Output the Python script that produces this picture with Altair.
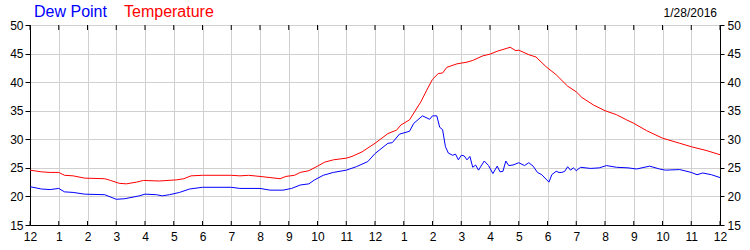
import altair as alt
import pandas as pd

# ---- data ----
temp_hours = [0.0, 0.4, 0.7, 1.0, 1.2, 1.5, 1.9, 2.6, 2.8, 3.1, 3.35, 3.7, 3.95, 4.5, 4.8,
              5.1, 5.35, 5.6, 6.0, 7.0, 7.3, 7.6, 8.0, 8.35, 8.7, 8.9, 9.2, 9.4, 9.7, 10.0,
              10.25, 10.55, 11.0, 11.2, 11.55, 12.0, 12.45, 12.75, 12.9, 13.2, 13.35, 13.6,
              13.8, 14.0, 14.2, 14.35, 14.5, 14.85, 15.2, 15.4, 15.75, 16.0, 16.25, 16.7,
              16.9, 17.0, 17.35, 17.6, 17.95, 18.3, 18.7, 19.0, 19.2, 19.6, 20.0, 20.4,
              20.75, 21.0, 21.45, 22.0, 22.6, 23.0, 23.55, 24.0]
temp_values = [24.6, 24.3, 24.2, 24.2, 23.7, 23.6, 23.2, 23.1, 22.8, 22.3, 22.2, 22.5, 22.8,
               22.7, 22.8, 22.9, 23.1, 23.6, 23.7, 23.7, 23.6, 23.7, 23.5, 23.3, 23.1, 23.5,
               23.7, 24.2, 24.5, 25.3, 26.0, 26.4, 26.7, 27.0, 27.8, 29.3, 31.0, 31.6, 32.5,
               33.4, 34.6, 36.6, 38.6, 40.5, 41.5, 41.6, 42.6, 43.2, 43.5, 43.8, 44.6, 44.9,
               45.4, 46.1, 45.5, 45.6, 44.8, 44.4, 42.7, 41.3, 39.3, 38.3, 37.3, 36.0, 35.0,
               34.3, 33.4, 32.8, 31.5, 30.2, 29.3, 28.7, 28.0, 27.3]

dew_hours = [0.0, 0.4, 0.7, 1.0, 1.2, 1.5, 1.9, 2.6, 3.0, 3.3, 3.8, 4.0, 4.4, 4.6, 4.85,
             5.2, 5.55, 6.0, 7.0, 7.3, 8.0, 8.35, 8.8, 9.1, 9.4, 9.7, 9.9, 10.2, 10.55,
             11.0, 11.35, 11.75, 12.0, 12.45, 12.6, 12.85, 13.2, 13.35, 13.65, 13.9, 14.0,
             14.15, 14.25, 14.35, 14.45, 14.55, 14.7, 14.8, 14.9, 15.0, 15.1, 15.2, 15.3,
             15.4, 15.5, 15.6, 15.8, 15.95, 16.1, 16.25, 16.35, 16.45, 16.55, 16.65, 16.8,
             17.0, 17.2, 17.35, 17.5, 17.65, 17.8, 18.05, 18.15, 18.3, 18.4, 18.5, 18.6,
             18.7, 18.8, 18.9, 19.0, 19.15, 19.5, 19.8, 20.05, 20.4, 20.8, 21.1, 21.55,
             21.9, 22.1, 22.6, 23.0, 23.2, 23.4, 23.7, 24.0]
dew_values = [21.7, 21.3, 21.2, 21.4, 20.8, 20.7, 20.4, 20.3, 19.5, 19.6, 20.1, 20.4, 20.3,
              20.1, 20.3, 20.7, 21.3, 21.6, 21.6, 21.4, 21.4, 21.1, 21.1, 21.4, 22.0, 22.2,
              22.9, 23.7, 24.2, 24.6, 25.2, 26.1, 27.5, 29.3, 29.4, 30.9, 31.4, 32.8, 34.1,
              33.5, 34.1, 34.1, 32.1, 31.7, 28.7, 27.6, 27.2, 27.4, 26.4, 27.2, 27.1, 26.4,
              27.0, 25.1, 25.5, 24.6, 26.2, 25.4, 24.0, 25.3, 24.3, 24.4, 26.2, 25.4, 25.5,
              25.9, 25.4, 25.9, 25.3, 24.2, 23.8, 22.5, 23.8, 24.4, 24.2, 24.2, 24.4, 25.2,
              24.6, 25.0, 24.5, 25.1, 24.9, 25.0, 25.4, 25.1, 25.0, 24.8, 25.3, 24.8, 24.6,
              24.7, 24.2, 23.8, 24.1, 23.8, 23.3]

series_names = ["Dew Point", "Temperature"]
series_colors = ["#0000ff", "#ff0000"]
hour_ticks = list(range(25))
y_ticks = [15, 20, 25, 30, 35, 40, 45, 50]
date_label = "1/28/2016"

df = pd.concat([
    pd.DataFrame({"hour": dew_hours, "value": dew_values, "series": series_names[0]}),
    pd.DataFrame({"hour": temp_hours, "value": temp_values, "series": series_names[1]}),
])
ticks_df = pd.DataFrame({"hour": hour_ticks})
date_df = pd.DataFrame({"label": [date_label]})

FONT = "Liberation Sans"
x_scale = alt.Scale(domain=[0, 24], nice=False, zero=False)
y_scale = alt.Scale(domain=[15, 50], nice=False, zero=False)
label_expr = "datum.value % 12 == 0 ? '12' : '' + (datum.value % 12)"
legend_color_expr = (f"datum.value == '{series_names[0]}' ? '{series_colors[0]}' : "
                     f"'{series_colors[1]}'")

x_axis = alt.Axis(values=hour_ticks, labelExpr=label_expr, title=None, grid=True,
                  orient="bottom", ticks=False, labelPadding=6, labelFlush=False)


def x_enc():
    return alt.X("hour:Q", scale=x_scale, axis=x_axis)


lines = alt.Chart(df).mark_line(strokeWidth=1).encode(
    x=x_enc(),
    y=alt.Y("value:Q", scale=y_scale,
            axis=alt.Axis(values=y_ticks, orient="left", title=None, grid=True,
                          tickSize=5, labelPadding=2)),
    color=alt.Color("series:N",
                    scale=alt.Scale(domain=series_names, range=series_colors),
                    legend=alt.Legend(title=None, orient="none", legendX=-12, legendY=-21,
                                      direction="horizontal", symbolSize=0,
                                      symbolStrokeWidth=0, symbolOpacity=0,
                                      labelFontSize=16, labelFont=FONT, labelOffset=0,
                                      columnPadding=1,
                                      labelColor=alt.ExprRef(expr=legend_color_expr))),
)

right_axis = alt.Chart(df).mark_line(opacity=0).encode(
    x=x_enc(),
    y=alt.Y("value:Q", scale=y_scale,
            axis=alt.Axis(values=y_ticks, orient="right", title=None, grid=False,
                          tickSize=4, labelPadding=3)),
    detail="series:N",
)

top_ticks = alt.Chart(ticks_df).mark_rule(color="black", strokeWidth=1).encode(
    x=x_enc(),
    y=alt.value(0), y2=alt.value(5),
)
bottom_ticks = alt.Chart(ticks_df).mark_rule(color="black", strokeWidth=1).encode(
    x=x_enc(),
    y=alt.value(196), y2=alt.value(200),
)

date_text = alt.Chart(date_df).mark_text(
    align="right", baseline="alphabetic", fontSize=12, font=FONT, color="black"
).encode(
    text="label:N", x=alt.value(687), y=alt.value(-8),
)

chart = alt.layer(lines, right_axis, top_ticks, bottom_ticks, date_text).resolve_axis(
    y="independent"
).properties(
    width=690, height=200,
    autosize=alt.AutoSizeParams(type="none"),
    padding={"left": 30, "top": 25, "right": 30, "bottom": 25},
).configure_view(
    stroke="black", strokeWidth=1,
).configure_axis(
    domainColor="black", domainWidth=1, tickColor="black", labelColor="black",
    labelFont=FONT, labelFontSize=12, gridColor="#d0d0d0", gridWidth=1,
)

chart.save("out.html", embed_options={"renderer": "svg", "actions": False})
